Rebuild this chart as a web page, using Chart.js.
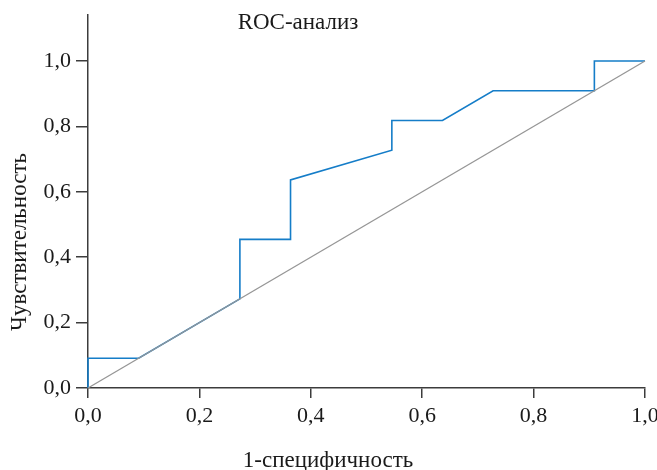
<!DOCTYPE html>
<html>
<head>
<meta charset="utf-8">
<script src="https://cdn.jsdelivr.net/npm/chart.js@4/dist/chart.umd.min.js"></script>
<style>
  html, body { margin: 0; padding: 0; background: #fff; }
  #wrap { width: 657px; height: 470px; }
</style>
</head>
<body>
<div id="wrap"><canvas id="rocChart"></canvas></div>
<script>
// ROC curve points (1-specificity, sensitivity)
const fpr = [0, 0, 0.0909, 0.2727, 0.2727, 0.3636, 0.3636, 0.5455, 0.5455, 0.6364, 0.7273, 0.9091, 0.9091, 1.0];
const tpr = [0, 0.0909, 0.0909, 0.2727, 0.4545, 0.4545, 0.6364, 0.7273, 0.8182, 0.8182, 0.9091, 0.9091, 1.0, 1.0];
const diagX = [0, 1];
const diagY = [0, 1];
const tickValues = [0, 0.2, 0.4, 0.6, 0.8, 1.0];

const chartTitle = "ROC-анализ";
const xTitle = "1-специфичность";
const yTitle = "Чувствительность";

const axisColor = "#3c3c3c";
const fontFamily = "'Liberation Serif', 'Times New Roman', serif";

function toPoints(xs, ys) {
  return xs.map((x, i) => ({ x: x, y: ys[i] }));
}

function fmt(v) {
  return v.toFixed(1).replace(".", ",");
}

// draws the three titles as text at fixed spots
const titlesPlugin = {
  id: "titles",
  afterDraw(chart) {
    const ctx = chart.ctx;
    ctx.save();
    ctx.fillStyle = "#1a1a1a";
    ctx.font = "23px " + fontFamily;
    ctx.textAlign = "center";
    ctx.textBaseline = "middle";
    ctx.fillText(chartTitle, 298, 23);
    ctx.fillText(xTitle, 328, 461);
    ctx.translate(20, 242);
    ctx.rotate(-Math.PI / 2);
    ctx.fillText(yTitle, 0, 0);
    ctx.restore();
  },
};

function displayChart() {
  const data = {
    datasets: [
      {
        label: "diag",
        data: toPoints(diagX, diagY),
        showLine: true,
        borderColor: "rgb(150, 150, 150)",
        borderWidth: 1.3,
        pointRadius: 0,
        clip: false,
      },
      {
        label: "ROC",
        data: toPoints(fpr, tpr),
        showLine: true,
        borderColor: "rgb(21, 125, 200)",
        borderWidth: 1.6,
        pointRadius: 0,
        clip: false,
      },
    ],
  };

  const config = {
    type: "scatter",
    data: data,
    plugins: [titlesPlugin],
    options: {
      responsive: true,
      maintainAspectRatio: false,
      animation: false,
      layout: { padding: { top: 15, right: 12, left: 0, bottom: 0 } },
      plugins: {
        legend: { display: false },
        tooltip: { enabled: false },
        title: { display: false },
      },
      scales: {
        x: {
          type: "linear",
          min: 0,
          max: 1,
          afterBuildTicks: (s) => { s.ticks = tickValues.map((v) => ({ value: v })); },
          afterFit: (s) => { s.height = 82; s.paddingLeft = 0; s.paddingRight = 0; },
          ticks: {
            callback: (v) => fmt(v),
            color: "#1a1a1a",
            font: { family: fontFamily, size: 22 },
            padding: 5,
            maxRotation: 0,
          },
          grid: { drawOnChartArea: false, drawTicks: true, tickLength: 10, color: axisColor, lineWidth: 1.5 },
          border: { color: axisColor, width: 1.5 },
        },
        y: {
          type: "linear",
          min: 0,
          max: 1.1407,
          afterBuildTicks: (s) => { s.ticks = tickValues.map((v) => ({ value: v })); },
          afterFit: (s) => { s.width = 88; s.paddingTop = 0; s.paddingBottom = 0; },
          ticks: {
            callback: (v) => fmt(v),
            color: "#1a1a1a",
            font: { family: fontFamily, size: 22 },
            padding: 5,
          },
          grid: { drawOnChartArea: false, drawTicks: true, tickLength: 12, color: axisColor, lineWidth: 1.5 },
          border: { color: axisColor, width: 1.5 },
        },
      },
    },
  };
  new Chart(document.getElementById("rocChart"), config);
}
displayChart();
</script>
</body>
</html>
